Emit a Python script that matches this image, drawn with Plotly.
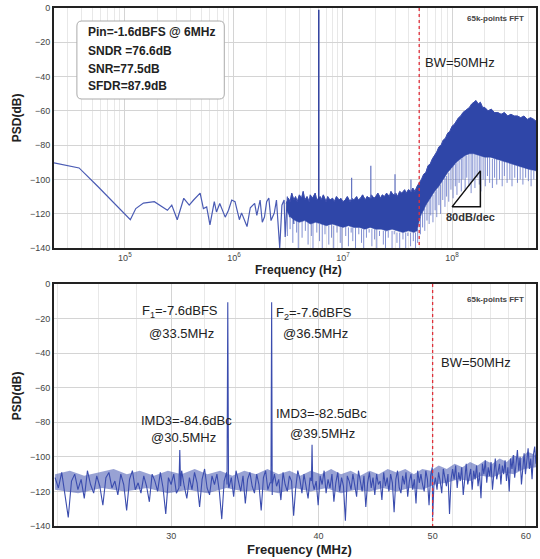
import numpy as np
import plotly.graph_objects as go

# ================= DATA =================
# ---- top panel: single-tone PSD (log frequency axis, Hz) ----
top_low = [(4.35, -90.3), (4.58, -93.3), (4.75, -104), (4.90, -114), (5.05, -123.5), (5.10, -117),
           (5.17, -113.8), (5.27, -113), (5.34, -116), (5.39, -118), (5.43, -115), (5.48, -123.5),
           (5.54, -111), (5.59, -115), (5.63, -112), (5.69, -108), (5.72, -117), (5.75, -116),
           (5.78, -126.5), (5.82, -113), (5.84, -119), (5.87, -114), (5.92, -122), (5.95, -118),
           (5.98, -112), (6.01, -113), (6.05, -123.5), (6.07, -119.5), (6.12, -127.5), (6.15, -116.5),
           (6.19, -114), (6.21, -121), (6.24, -112), (6.26, -125), (6.28, -121.9), (6.30, -113),
           (6.32, -110.8), (6.34, -124), (6.37, -119.6), (6.39, -112), (6.42, -140), (6.44, -115),
           (6.46, -112), (6.47, -133.6), (6.49, -110), (6.51, -122), (6.53, -109), (6.55, -126)]

band_upper = [(6.48, -114), (6.50, -111), (6.515, -113), (6.53, -108), (6.55, -112), (6.565, -110), (6.58, -113),
              (6.60, -109), (6.62, -111), (6.635, -107), (6.65, -112), (6.67, -110), (6.69, -113), (6.70, -109),
              (6.72, -111), (6.745, -108), (6.76, -112), (6.79, -110), (6.80, -112), (6.82, -109), (6.845, -113),
              (6.86, -110), (6.88, -112), (6.905, -111), (6.92, -113), (6.94, -110), (6.965, -112), (6.98, -111),
              (7.00, -113), (7.02, -112), (7.04, -110), (7.065, -113), (7.08, -111), (7.10, -112), (7.125, -110),
              (7.14, -112), (7.16, -111), (7.18, -109), (7.205, -112), (7.22, -110), (7.245, -111), (7.26, -109),
              (7.285, -111), (7.30, -110), (7.32, -108), (7.345, -111), (7.36, -109), (7.38, -110), (7.40, -108),
              (7.425, -110), (7.44, -107), (7.46, -109), (7.485, -108), (7.50, -110), (7.52, -107), (7.54, -108),
              (7.565, -106), (7.58, -108), (7.60, -106), (7.625, -107), (7.64, -105), (7.66, -107), (7.68, -104),
              (7.70, -102), (7.72, -100), (7.74, -97), (7.76, -96), (7.78, -92), (7.80, -91), (7.82, -88),
              (7.84, -86), (7.86, -84), (7.88, -81), (7.90, -80), (7.92, -77), (7.94, -76), (7.96, -73),
              (7.98, -72), (8.00, -69), (8.02, -68), (8.04, -66), (8.06, -64), (8.08, -63), (8.10, -61),
              (8.12, -60), (8.14, -59), (8.16, -58), (8.18, -56), (8.20, -55), (8.22, -54), (8.24, -56),
              (8.26, -55), (8.28, -58), (8.30, -58), (8.33, -60), (8.36, -59), (8.39, -61), (8.42, -61),
              (8.45, -62), (8.48, -61), (8.51, -63), (8.54, -62), (8.57, -63), (8.60, -63), (8.63, -64),
              (8.66, -63), (8.69, -65), (8.72, -64), (8.75, -65), (8.77, -66)]

band_lower = [(6.48, -118), (6.52, -122), (6.56, -124), (6.60, -125), (6.65, -124), (6.70, -126), (6.75, -125),
              (6.80, -126), (6.85, -127), (6.90, -126), (6.95, -127), (7.00, -128), (7.05, -127), (7.10, -128),
              (7.15, -128), (7.20, -129), (7.25, -128), (7.30, -129), (7.35, -129), (7.40, -130), (7.45, -129),
              (7.50, -130), (7.55, -131), (7.60, -130), (7.65, -131), (7.68, -130), (7.70, -124), (7.72, -120),
              (7.74, -118), (7.76, -115), (7.78, -113), (7.80, -111), (7.84, -107), (7.88, -104), (7.92, -100),
              (7.96, -96), (8.00, -93), (8.04, -90), (8.08, -88), (8.12, -86), (8.16, -85), (8.20, -85),
              (8.25, -86), (8.30, -87), (8.35, -87), (8.40, -88), (8.50, -90), (8.60, -92), (8.70, -94),
              (8.77, -95)]

# downward noise spikes: (log10 f, top dB, bottom dB)
top_spikes = [(6.49, -119, -133), (6.515, -121, -129), (6.54, -122, -137), (6.575, -123, -131), (6.59, -123, -140),
              (6.625, -124, -134), (6.655, -124, -130), (6.68, -125, -138), (6.71, -125, -133), (6.725, -125, -140),
              (6.76, -125, -131), (6.785, -126, -136), (6.81, -126, -140), (6.835, -126, -132), (6.87, -127, -138),
              (6.895, -126, -134), (6.915, -127, -140), (6.945, -127, -131), (6.975, -127, -137), (6.99, -128, -140),
              (7.025, -127, -133), (7.05, -128, -139), (7.075, -128, -131), (7.09, -128, -136), (7.115, -128, -140),
              (7.145, -128, -132), (7.17, -129, -137), (7.19, -129, -140), (7.215, -128, -134), (7.24, -129, -131),
              (7.265, -129, -139), (7.29, -129, -135), (7.31, -129, -140), (7.335, -130, -133), (7.37, -130, -138),
              (7.39, -130, -140), (7.415, -130, -134), (7.45, -130, -140), (7.47, -130, -132), (7.495, -131, -137),
              (7.52, -131, -140), (7.55, -131, -135), (7.575, -131, -140), (7.595, -131, -133), (7.62, -131, -139),
              (7.645, -131, -136), (7.665, -131, -140), (7.685, -129, -137),
              (7.71, -122, -132), (7.73, -119, -128), (7.75, -117, -130), (7.77, -114, -124), (7.79, -112, -126),
              (7.805, -110, -121), (7.825, -109, -125), (7.845, -107, -118), (7.86, -106, -122), (7.88, -104, -115),
              (7.895, -103, -120), (7.915, -101, -112), (7.935, -99, -116), (7.95, -98, -110), (7.97, -96, -113),
              (7.99, -94, -106), (8.01, -92, -111), (8.03, -91, -104), (8.045, -90, -109), (8.065, -89, -102),
              (8.085, -88, -107), (8.10, -87, -100), (8.12, -86, -106), (8.135, -86, -99), (8.155, -85, -104),
              (8.175, -85, -108), (8.19, -85, -101), (8.21, -85, -105), (8.23, -85, -99), (8.25, -86, -103),
              (8.265, -86, -107), (8.285, -86, -100), (8.305, -87, -104), (8.325, -87, -98), (8.345, -87, -102),
              (8.37, -88, -105), (8.39, -88, -99), (8.41, -88, -103), (8.435, -89, -100), (8.46, -89, -104),
              (8.48, -89, -98), (8.505, -90, -102), (8.53, -90, -100), (8.55, -91, -104), (8.575, -91, -99),
              (8.60, -92, -102), (8.625, -92, -100), (8.65, -93, -103), (8.675, -93, -99), (8.70, -94, -101),
              (8.725, -94, -104), (8.75, -95, -100)]

tone_hz, tone_db, tone_base_db = 6e6, -1.0, -112
spur_hz = [12e6, 18e6, 30e6, 42e6]
spur_db = [-99, -92, -97, -100]
spur_base_db = [-112, -111, -109, -107]
bw_hz = 50e6
tri_logf = [8.0, 8.26, 8.26, 8.0]
tri_db = [-116, -116, -95, -116]

# ---- bottom panel: two-tone PSD (MHz, log axis) ----
bot_f_start, bot_f_stop = 23.9, 61.2
bot_noise_db = [
    -112, -118, -109, -121, -135, -114, -110, -119, -113, -124, -108, -116, -121, -111, -117, -128, -112, -109, -118, -114,
    -122, -110, -116, -131, -113, -108, -119, -115, -121, -111, -117, -126, -110, -114, -120, -109, -118, -133, -112, -116,
    -110, -121, -114, -108, -117, -124, -112, -119, -109, -115, -129, -113, -107, -118, -122, -111, -116, -110, -120, -136,
    -114, -109, -118, -112, -123, -108, -115, -120, -111, -127, -113, -109, -117, -121, -110, -116, -131, -112, -108, -119,
    -115, -122, -110, -117, -113, -125, -109, -116, -120, -111, -114, -134, -118, -108, -113, -121, -110, -117, -124, -112,
    -109, -119, -114, -128, -111, -116, -108, -121, -113, -118, -110, -126, -115, -109, -120, -112, -117, -137, -111, -114,
    -119, -110, -116, -123, -108, -113, -120, -111, -129, -115, -109, -118, -112, -122, -110, -116, -114, -125, -109, -117,
    -112, -120, -110, -115, -132, -113, -108, -118, -121, -111, -116, -109, -123, -114, -110, -119, -113, -127, -108, -115,
    -110, -116, -120, -108, -113, -128, -111, -106, -117, -112, -119, -109, -114, -121, -107, -112, -117, -110, -133, -113,
    -107, -113, -105, -118, -109, -114, -106, -122, -110, -104, -116, -111, -107, -119, -108, -113, -105, -117, -109, -124,
    -104, -110, -102, -115, -106, -111, -103, -119, -107, -101, -113, -108, -104, -116, -105, -110, -102, -114, -106, -120,
    -101, -107, -99, -112, -103, -96, -108, -100, -116, -104, -98, -110, -102, -95, -107, -101, -113, -99, -94, -104]
bot_tones = [(30.45, -118), (30.5, -96), (30.55, -117), (33.45, -116), (33.5, -10.5), (33.55, -117),
             (36.45, -115), (36.5, -10.5), (36.55, -116), (39.45, -114), (39.5, -93), (39.55, -115),
             (50.0, -135)]
# dense noise core (upper / lower edge), MHz vs dB
bot_core_upper = [(23.9, -110), (24.6, -108), (25.3, -111), (26.0, -109), (26.8, -107), (27.5, -110), (28.2, -108),
                  (29.0, -111), (29.8, -108), (30.6, -110), (31.4, -107), (32.2, -110), (33.0, -108), (33.8, -111),
                  (34.6, -108), (35.4, -110), (36.2, -107), (37.0, -110), (37.8, -108), (38.6, -111), (39.4, -108),
                  (40.2, -110), (41.0, -107), (41.8, -110), (42.6, -108), (43.4, -111), (44.2, -108), (45.0, -110),
                  (45.8, -107), (46.6, -109), (47.4, -107), (48.2, -110), (49.0, -107), (49.8, -108), (50.6, -105),
                  (51.4, -107), (52.2, -104), (53.0, -106), (53.8, -103), (54.6, -105), (55.4, -102), (56.2, -104),
                  (57.0, -101), (57.8, -103), (58.6, -99), (59.4, -101), (60.2, -97), (61.2, -99)]
bot_core_lower = [(23.9, -119), (25.0, -121), (26.2, -118), (27.4, -120), (28.6, -118), (29.8, -121), (31.0, -119),
                  (32.2, -121), (33.4, -118), (34.6, -120), (35.8, -119), (37.0, -121), (38.2, -118), (39.4, -120),
                  (40.6, -118), (41.8, -121), (43.0, -119), (44.2, -120), (45.4, -118), (46.6, -120), (47.8, -118),
                  (49.0, -119), (50.2, -116), (51.4, -115), (52.6, -113), (53.8, -114), (55.0, -111), (56.2, -112),
                  (57.4, -109), (58.6, -110), (59.8, -107), (61.2, -106)]
bot_bw_mhz = 50.0

# ================= LAYOUT HELPERS =================
W, H = 540, 559
ML, MR, MT, MB = 54, 2, 8, 33
PW, PH = W - ML - MR, H - MT - MB


def px(x):
    return (x - ML) / PW


def py(y):
    return (H - MB - y) / PH


BLUE = "#3a4cae"
BAND = "#2f46a8"
SPIKE = "rgba(75,95,190,0.7)"
FONT = "Liberation Sans, Arial, sans-serif"

fig = go.Figure()

# ---- top traces ----
lx, ly = zip(*top_low)
fig.add_trace(go.Scatter(x=10 ** np.array(lx), y=ly, mode="lines", line=dict(color="#4a5bb4", width=1.2),
                         xaxis="x", yaxis="y", hoverinfo="skip"))

sx, sy = [], []
for lf, t, b in top_spikes:
    sx += [10 ** lf, 10 ** lf, None]
    sy += [t, b, None]
fig.add_trace(go.Scatter(x=sx, y=sy, mode="lines", line=dict(color=SPIKE, width=1),
                         xaxis="x", yaxis="y", hoverinfo="skip"))

ux, uy = zip(*band_upper)
bx, by = zip(*band_lower)
poly_x = list(ux) + list(bx)[::-1]
poly_y = list(uy) + list(by)[::-1]
fig.add_trace(go.Scatter(x=10 ** np.array(poly_x), y=poly_y, mode="lines", fill="toself", fillcolor=BAND,
                         line=dict(color=BAND, width=0.5), xaxis="x", yaxis="y", hoverinfo="skip"))
fig.add_trace(go.Scatter(x=10 ** np.array(ux), y=uy, mode="lines", line=dict(color=BLUE, width=1),
                         xaxis="x", yaxis="y", hoverinfo="skip"))

tx, ty = [tone_hz, tone_hz], [tone_base_db, tone_db]
fig.add_trace(go.Scatter(x=tx, y=ty, mode="lines", line=dict(color="#2e3f9e", width=1.5),
                         xaxis="x", yaxis="y", hoverinfo="skip"))
spx, spy = [], []
for f, v, b in zip(spur_hz, spur_db, spur_base_db):
    spx += [f, f, None]
    spy += [b, v, None]
fig.add_trace(go.Scatter(x=spx, y=spy, mode="lines", line=dict(color="#6272c0", width=1.2),
                         xaxis="x", yaxis="y", hoverinfo="skip"))

fig.add_trace(go.Scatter(x=[bw_hz, bw_hz], y=[0, -140], mode="lines",
                         line=dict(color="#e0303a", width=1.3, dash="dot"), xaxis="x", yaxis="y", hoverinfo="skip"))
fig.add_trace(go.Scatter(x=10 ** np.array(tri_logf), y=tri_db, mode="lines", line=dict(color="#111", width=1.5),
                         xaxis="x", yaxis="y", hoverinfo="skip"))

# ---- bottom traces ----
cux, cuy = zip(*bot_core_upper)
clx, cly = zip(*bot_core_lower)
fig.add_trace(go.Scatter(x=list(cux) + list(clx)[::-1], y=list(cuy) + list(cly)[::-1], mode="lines",
                         fill="toself", fillcolor="rgba(50,70,170,0.5)", line=dict(width=0),
                         xaxis="x2", yaxis="y2", hoverinfo="skip"))
bf = np.linspace(bot_f_start, bot_f_stop, len(bot_noise_db))
pts = list(zip(bf, bot_noise_db)) + bot_tones
pts.sort(key=lambda p: p[0])
fx, fy = zip(*pts)
fig.add_trace(go.Scatter(x=fx, y=fy, mode="lines", line=dict(color=BLUE, width=1.1),
                         xaxis="x2", yaxis="y2", hoverinfo="skip"))
fig.add_trace(go.Scatter(x=[bot_bw_mhz, bot_bw_mhz], y=[0, -140], mode="lines",
                         line=dict(color="#e0303a", width=1.3, dash="dot"), xaxis="x2", yaxis="y2", hoverinfo="skip"))

# ================= AXES =================
tickfont = dict(family=FONT, size=9, color="#444")
axis_common = dict(showline=True, linecolor="#222", linewidth=2, mirror=True, ticks="",
                   gridcolor="#d4d4d4", gridwidth=1, zeroline=False, tickfont=tickfont)

top_minor = [m * 10 ** d for d in range(4, 9) for m in range(2, 10)]
bot_minor = list(range(24, 62, 2))

fig.update_layout(
    width=W, height=H, margin=dict(l=ML, r=MR, t=MT, b=MB),
    plot_bgcolor="white", paper_bgcolor="white", showlegend=False,
    xaxis=dict(type="log", range=[4.35, 8.77], domain=[0, 1], anchor="y",
               tickvals=[1e5, 1e6, 1e7, 1e8],
               ticktext=["10<sup>5</sup>", "10<sup>6</sup>", "10<sup>7</sup>", "10<sup>8</sup>"],
               minor=dict(tickvals=top_minor, showgrid=True, gridcolor="#e8e8e8", ticks=""),
               **axis_common),
    yaxis=dict(range=[-140, 0], domain=[py(248), 1], anchor="x", tickvals=list(range(-140, 1, 20)),
               **axis_common),
    xaxis2=dict(type="log", range=[np.log10(23.85), np.log10(61.2)], domain=[0, 1], anchor="y2",
                tickvals=[30, 40, 50, 60], ticktext=["30", "40", "50", "60"],
                minor=dict(tickvals=bot_minor, showgrid=True, gridcolor="#e8e8e8", ticks=""),
                **axis_common),
    yaxis2=dict(range=[-140, 0], domain=[0, py(284)], anchor="x2", tickvals=list(range(-140, 1, 20)),
                **axis_common),
)

# ================= TEXT =================
ann = []


def add_text(text, x, y, size=13, bold=False, color="#222", angle=0, xanchor="center"):
    t = f"<b>{text}</b>" if bold else text
    ann.append(dict(text=t, x=px(x), y=py(y), xref="paper", yref="paper", showarrow=False,
                    xanchor=xanchor, yanchor="middle", textangle=angle,
                    font=dict(family=FONT, size=size, color=color)))


# info box
for line, yy in zip(["Pin=-1.6dBFS @ 6MHz", "SNDR =76.6dB", "SNR=77.5dB", "SFDR=87.9dB"], [32, 51, 68.5, 86]):
    add_text(line, 86, yy, size=12, bold=True, xanchor="left")

add_text("65k-points FFT", 497, 19, size=8, bold=True, color="#444")
add_text("BW=50MHz", 462, 62, size=13)
add_text("80dB/dec", 472, 217, size=11, bold=True, color="#333")
add_text("Frequency (Hz)", 300, 270, size=12, bold=True)
add_text("PSD(dB)", 17, 118, size=12, bold=True, angle=-90)

add_text("65k-points FFT", 497, 299, size=8, bold=True, color="#444")
add_text("F<sub>1</sub>=-7.6dBFS", 181, 312, size=13)
add_text("@33.5MHz", 182, 333, size=13)
add_text("F<sub>2</sub>=-7.6dBFS", 315, 313, size=13)
add_text("@36.5MHz", 317, 333, size=13)
add_text("BW=50MHz", 478, 362, size=13)
add_text("IMD3=-84.6dBc", 187, 420, size=13)
add_text("@30.5MHz", 184, 437, size=13)
add_text("IMD3=-82.5dBc", 323, 413, size=13)
add_text("@39.5MHz", 324, 433, size=13)
add_text("Frequency (MHz)", 301, 549, size=13, bold=True)
add_text("PSD(dB)", 17, 396, size=12, bold=True, angle=-90)

fig.update_layout(annotations=ann)

# rounded info box
x0, x1, y0, y1, r = 77, 225, 21, 99, 5
path = (f"M {px(x0 + r)},{py(y0)} L {px(x1 - r)},{py(y0)} Q {px(x1)},{py(y0)} {px(x1)},{py(y0 + r)} "
        f"L {px(x1)},{py(y1 - r)} Q {px(x1)},{py(y1)} {px(x1 - r)},{py(y1)} "
        f"L {px(x0 + r)},{py(y1)} Q {px(x0)},{py(y1)} {px(x0)},{py(y1 - r)} "
        f"L {px(x0)},{py(y0 + r)} Q {px(x0)},{py(y0)} {px(x0 + r)},{py(y0)} Z")
fig.add_shape(type="path", path=path, xref="paper", yref="paper",
              line=dict(color="#aaaaaa", width=1), fillcolor="white", layer="above")

# remove the default 8px page margin so the figure sits at the window origin
fig.write_html("out.html", config={"displayModeBar": False},
               post_script="document.body.style.margin='0';document.body.style.overflow='hidden';")
